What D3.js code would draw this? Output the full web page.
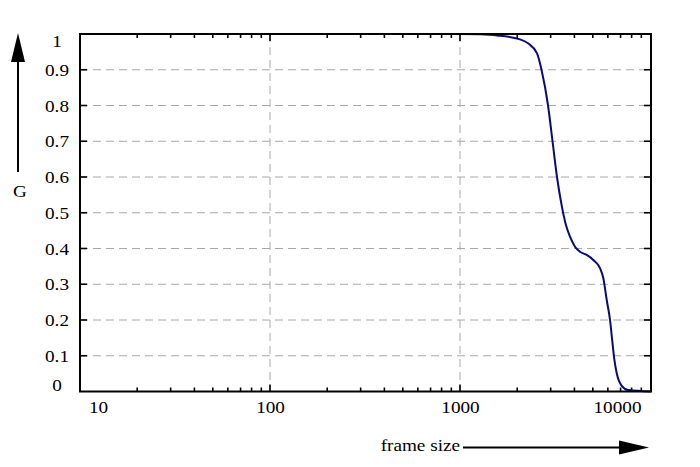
<!DOCTYPE html>
<html>
<head>
<meta charset="utf-8">
<script src="https://cdn.jsdelivr.net/npm/d3@7"></script>
<style>
  body { margin: 0; background: #fff; }
  text { font-family: "Liberation Serif", "DejaVu Serif", serif; font-size: 16px; fill: #000; }
</style>
</head>
<body>
<div id="chart"></div>
<script>
// curve
const frameSize = [10, 1000, 1274, 1565, 2069, 2280, 2543, 2685, 2906, 3068, 3239, 3430, 3601, 3793,
  4030, 4281, 4644, 5030, 5455, 5679, 5918, 6160, 6333, 6489, 6680, 7097, 7689, 10120];
const gValue = [1, 1, 0.999, 0.996, 0.985, 0.974, 0.946, 0.9, 0.8, 0.7, 0.6, 0.52, 0.468, 0.433,
  0.405, 0.391, 0.382, 0.368, 0.345, 0.317, 0.256, 0.2, 0.14, 0.09, 0.051, 0.016, 0.004, 0];

const yTicks = [0, 0.1, 0.2, 0.3, 0.4, 0.5, 0.6, 0.7, 0.8, 0.9, 1];
const yTickLabels = ["0", "0.1", "0.2", "0.3", "0.4", "0.5", "0.6", "0.7", "0.8", "0.9", "1"];
const xMajor = [10, 100, 1000, 10000];
const xTickLabels = ["10", "100", "1000", "10000"];
const xGrid = [100, 1000];

const width = 700, height = 467;
const pLeft = 80, pRight = 651, pTop = 34, pBottom = 391.5;

const svg = d3.select("#chart").append("svg")
    .attr("width", width).attr("height", height);

const x = d3.scaleLog().domain([10, 10120]).range([pLeft, pRight]);
const y = d3.scaleLinear().domain([0, 1]).range([pBottom, pTop]);

// minor ticks 20..90, 200..900 etc
const xMinor = [];
[10, 100, 1000].forEach(d => { for (let k = 2; k <= 9; k++) xMinor.push(d * k); });

// grid
svg.append("g").selectAll("line")
    .data(yTicks.slice(1, -1))
    .join("line")
    .attr("x1", pLeft).attr("x2", pRight)
    .attr("y1", d => y(d)).attr("y2", d => y(d))
    .attr("stroke", "#a8a8a8").attr("stroke-width", 1)
    .attr("stroke-dasharray", "8,5");

svg.append("g").selectAll("line")
    .data(xGrid)
    .join("line")
    .attr("x1", d => x(d)).attr("x2", d => x(d))
    .attr("y1", pTop).attr("y2", pBottom)
    .attr("stroke", "#a8a8a8").attr("stroke-width", 1)
    .attr("stroke-dasharray", "8,5");

// ticks, inside the frame
const ticks = svg.append("g").attr("stroke", "#000").attr("stroke-width", 1.6);
yTicks.slice(1, -1).forEach(d => {
    ticks.append("line").attr("x1", pLeft).attr("x2", pLeft + 7).attr("y1", y(d)).attr("y2", y(d));
    ticks.append("line").attr("x1", pRight).attr("x2", pRight - 7).attr("y1", y(d)).attr("y2", y(d));
});
xMinor.forEach(d => {
    ticks.append("line").attr("x1", x(d)).attr("x2", x(d)).attr("y1", pBottom).attr("y2", pBottom - 4);
    ticks.append("line").attr("x1", x(d)).attr("x2", x(d)).attr("y1", pTop).attr("y2", pTop + 4);
});
xGrid.forEach(d => {
    ticks.append("line").attr("x1", x(d)).attr("x2", x(d)).attr("y1", pBottom).attr("y2", pBottom - 7);
    ticks.append("line").attr("x1", x(d)).attr("x2", x(d)).attr("y1", pTop).attr("y2", pTop + 7);
});

// the curve
const line = d3.line()
    .x((d, i) => x(frameSize[i]))
    .y(d => y(d))
    .curve(d3.curveMonotoneX);

svg.append("path")
    .datum(gValue)
    .attr("d", line)
    .attr("fill", "none")
    .attr("stroke", "#0a0a78")
    .attr("stroke-width", 2);

// frame
svg.append("rect")
    .attr("x", pLeft).attr("y", pTop)
    .attr("width", pRight - pLeft).attr("height", pBottom - pTop)
    .attr("fill", "none").attr("stroke", "#000").attr("stroke-width", 2);

// labels are a bit wider than the font, so stretch them
function label(tx, ty, str) {
    svg.append("text")
        .attr("transform", `translate(${tx},${ty}) scale(1.2,1)`)
        .attr("text-anchor", "middle")
        .text(str);
}

yTicks.forEach((d, i) => {
    let ty = y(d) + 6;
    if (d === 1) ty = 46.5;
    if (d === 0) ty = 391;
    label(57, ty, yTickLabels[i]);
});

const xLabelPos = [98.5, null, null, 617.5];
xMajor.forEach((d, i) => {
    const tx = xLabelPos[i] != null ? xLabelPos[i] : x(d) + 0.5;
    label(tx, 413, xTickLabels[i]);
});

// axis arrows
svg.append("line").attr("x1", 18).attr("x2", 18).attr("y1", 60).attr("y2", 172)
    .attr("stroke", "#000").attr("stroke-width", 2);
svg.append("path").attr("d", "M18,33 L11,62 L25,62 Z").attr("fill", "#000");
label(20, 197, "G");

svg.append("line").attr("x1", 463).attr("x2", 621).attr("y1", 447.5).attr("y2", 447.5)
    .attr("stroke", "#000").attr("stroke-width", 2);
svg.append("path").attr("d", "M649,447.5 L619,440.5 L619,454.5 Z").attr("fill", "#000");
svg.append("text")
    .attr("transform", "translate(460,451) scale(1.2,1)")
    .attr("text-anchor", "end")
    .text("frame size");
</script>
</body>
</html>
